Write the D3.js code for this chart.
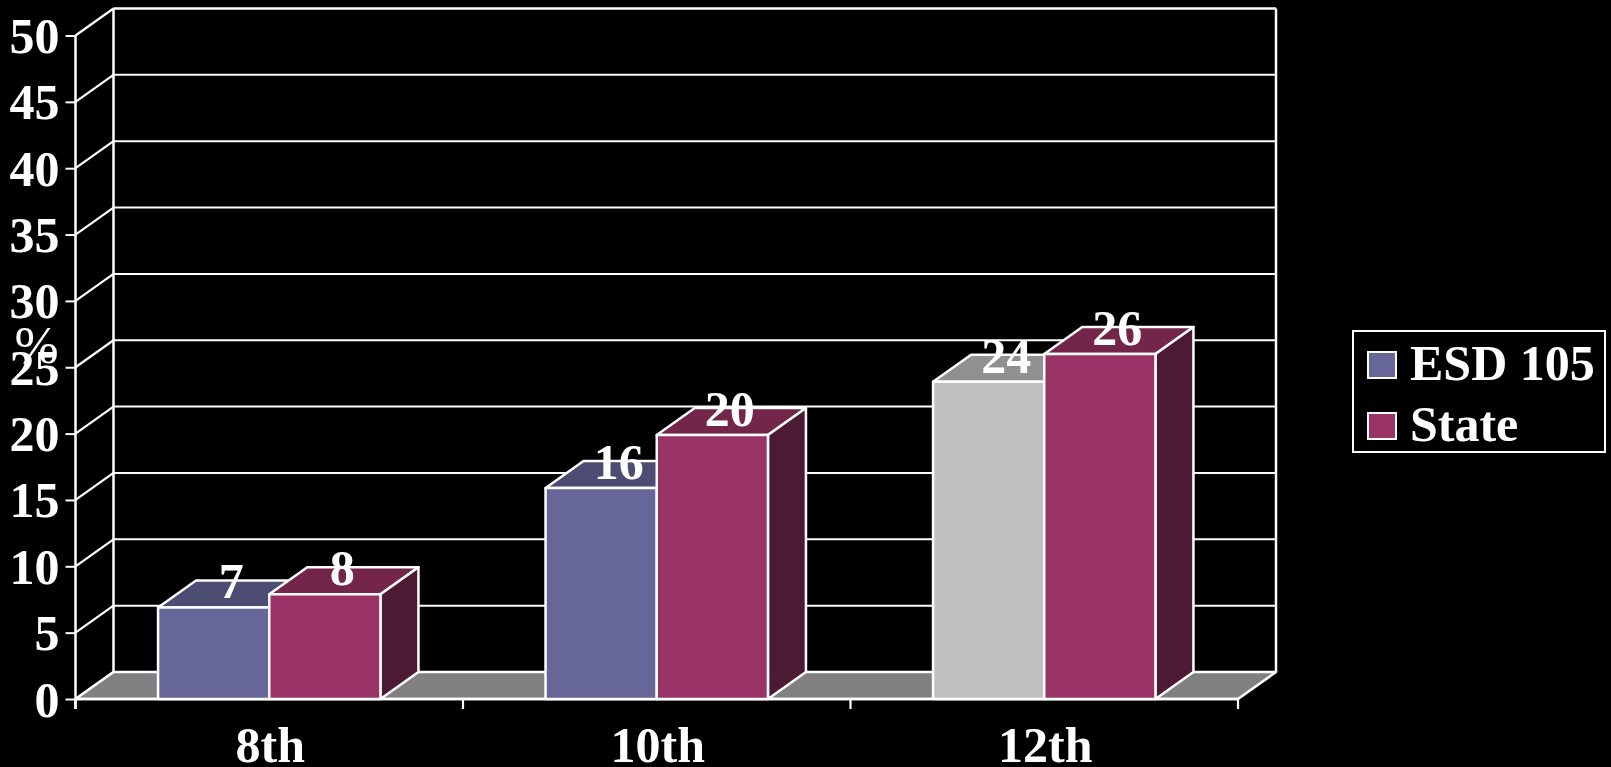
<!DOCTYPE html>
<html><head><meta charset="utf-8">
<style>
html,body{margin:0;padding:0;background:#000;overflow:hidden}
svg{display:block}
text{font-family:"Liberation Serif",serif;font-weight:700;fill:#fff}
</style>
<script src="https://cdn.jsdelivr.net/npm/d3@7/dist/d3.min.js"></script>
</head><body><svg id="c" width="1611" height="767"></svg>
<script>
const categories = ["8th","10th","12th"];
const seriesNames = ["ESD 105","State"];
const esd = [6.9,15.9,23.9];
const state = [7.9,19.9,26];
const yTickValues = [0,5,10,15,20,25,30,35,40,45,50];
const yAxisTitle = "%";

const front = {left:75.5, right:1238, top:35.5, bottom:699};
const depth = {dx:38, dy:-27};
const barW = 111.2;
const fs = "50px";
const colors = {
  "ESD 105":{front:"#666699",top:"#4d4d73",side:"#33334d"},
  "State":{front:"#993366",top:"#732649",side:"#4d1a33"}
};
const grey = {front:"#c0c0c0",top:"#909090",side:"#606060"};

const svg = d3.select("#c");
svg.append("rect").attr("width",1611).attr("height",767).attr("fill","#000");

const y = d3.scaleLinear().domain([0,50]).range([front.bottom,front.top]);
const x = d3.scaleBand().domain(categories).range([front.left,front.right]);
const xs = d3.scaleBand().domain(seriesNames).range([-barW,barW]);
const fmt = d3.format(".0f");
const W = "#fff";
const poly = (pts,fill,sw=2.5)=>svg.append("polygon").attr("points",pts.map(p=>p.join(",")).join(" "))
  .attr("fill",fill).attr("stroke",W).attr("stroke-width",sw).attr("stroke-linejoin","round");
const line = (a,b,sw=2)=>svg.append("line").attr("x1",a[0]).attr("y1",a[1]).attr("x2",b[0]).attr("y2",b[1]).attr("stroke",W).attr("stroke-width",sw);

// axis title sits under the tick labels
svg.append("text").attr("x",36.5).attr("y",363).attr("text-anchor","middle")
  .style("font-weight",400).style("font-size","53px").text(yAxisTitle);

// back wall + side wall grid
yTickValues.forEach(v=>{
  const py=y(v);
  line([front.left+depth.dx,py+depth.dy],[front.right+depth.dx,py+depth.dy], v===50?2.5:2);
  line([front.left,py],[front.left+depth.dx,py+depth.dy],2.2);
});
line([front.left+depth.dx,y(50)+depth.dy],[front.left+depth.dx,y(0)+depth.dy],2.5);
line([front.right+depth.dx,y(50)+depth.dy],[front.right+depth.dx,y(0)+depth.dy],2.5);

// floor
poly([[front.left,y(0)],[front.left+depth.dx,y(0)+depth.dy],[front.right+depth.dx,y(0)+depth.dy],[front.right,y(0)]],"#808080");

// y axis
const yAxis = svg.append("g").attr("transform",`translate(${front.left},0)`)
  .call(d3.axisLeft(y).tickValues(yTickValues).tickSize(10).tickPadding(6));
yAxis.select(".domain").remove();
yAxis.selectAll("line").attr("stroke",W).attr("stroke-width",2);
yAxis.selectAll("text").style("font-size",fs).attr("dy",null).attr("y",17);
line([front.left,front.top],[front.left,front.bottom+10],2.5);

// x axis
const xAxis = svg.append("g").attr("transform",`translate(0,${front.bottom})`)
  .call(d3.axisBottom(x).tickSize(0).tickPadding(0));
xAxis.select(".domain").remove();
xAxis.selectAll("text").style("font-size",fs).attr("dy",null).attr("y",63).attr("x",1);
const boundaries = categories.map(c=>x(c)).concat([front.right]);
boundaries.forEach(b=>line([b,front.bottom],[b,front.bottom+10],2.2));
line([front.left,front.bottom],[front.right,front.bottom],2.5);

// bars
const labels=[];
categories.forEach((c,i)=>{
  const cx=x(c)+x.bandwidth()/2;
  [esd,state].forEach((arr,s)=>{
    const name=seriesNames[s], v=arr[i];
    const col=(c==="12th"&&s===0)?grey:colors[name];
    const x0=cx+xs(name), x1=x0+xs.bandwidth(), yt=y(v), yb=y(0);
    const d=depth;
    poly([[x0,yt],[x0+d.dx,yt+d.dy],[x1+d.dx,yt+d.dy],[x1,yt]],col.top);
    poly([[x1,yt],[x1+d.dx,yt+d.dy],[x1+d.dx,yb+d.dy],[x1,yb]],col.side);
    poly([[x0,yt],[x1,yt],[x1,yb],[x0,yb]],col.front);
    labels.push({x:(x0+x1)/2+17.5,y:yt-9,t:fmt(v)});
  });
});
svg.append("g").selectAll("text").data(labels).join("text")
  .attr("x",d=>d.x).attr("y",d=>d.y).attr("text-anchor","middle")
  .style("font-size",fs).text(d=>d.t);

// legend
svg.append("rect").attr("x",1353).attr("y",331).attr("width",252).attr("height",121)
  .attr("fill","#000").attr("stroke",W).attr("stroke-width",2);
seriesNames.forEach((n,i)=>{
  const oy=61*i;
  svg.append("rect").attr("x",1368).attr("y",352+oy).attr("width",28).attr("height",26)
    .attr("fill",colors[n].front).attr("stroke",W).attr("stroke-width",2);
  svg.append("text").attr("x",1410).attr("y",380+oy).style("font-size",fs).text(n);
});
</script></body></html>
